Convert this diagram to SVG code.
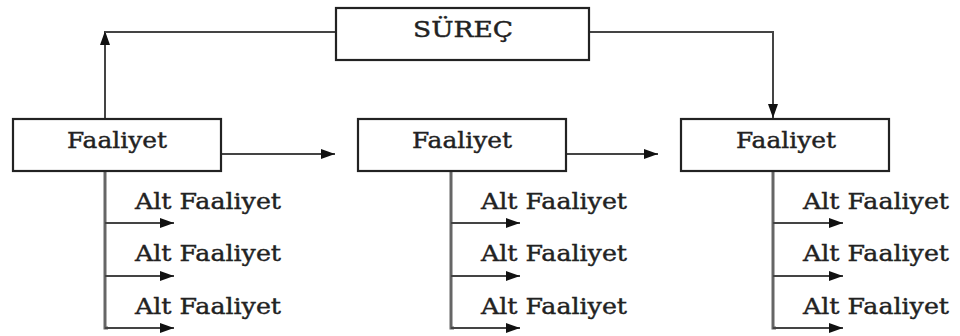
<svg xmlns="http://www.w3.org/2000/svg" width="960" height="336" viewBox="0 0 960 336">
<style>
.box{fill:#fff;stroke:#222;stroke-width:2.2}
.t{font-family:"DejaVu Serif","Liberation Serif",serif;fill:#222;stroke:#222;stroke-width:0.4}
.bt{font-size:22px}
.st{font-size:22px}
.ln{fill:none;stroke:#444;stroke-width:2}
.br{fill:none;stroke:#666;stroke-width:3}
</style>
<defs>
<marker id="ah" viewBox="0 0 14 10" refX="14" refY="5" markerWidth="14" markerHeight="10" markerUnits="userSpaceOnUse" orient="auto">
<path d="M0,0 L14,5 L0,10 Z" fill="#111"/>
</marker>
</defs>
<g id="connectors">
<path class="ln" d="M105,119 V31" marker-end="url(#ah)"/>
<path class="ln" d="M105,32 H336"/>
<path class="ln" d="M589,32 H773 V118" marker-end="url(#ah)"/>
<path class="ln" d="M221,154 H335" marker-end="url(#ah)"/>
<path class="ln" d="M566,154 H658" marker-end="url(#ah)"/>
<path class="br" d="M105,171 V328 H108"/>
<path class="ln" d="M105,223 H174" marker-end="url(#ah)"/>
<path class="ln" d="M105,276 H174" marker-end="url(#ah)"/>
<path class="ln" d="M105,328 H174" marker-end="url(#ah)"/>
<path class="br" d="M451,171 V328 H454"/>
<path class="ln" d="M451,223 H520" marker-end="url(#ah)"/>
<path class="ln" d="M451,276 H520" marker-end="url(#ah)"/>
<path class="ln" d="M451,328 H520" marker-end="url(#ah)"/>
<path class="br" d="M773,171 V328 H776"/>
<path class="ln" d="M773,223 H843" marker-end="url(#ah)"/>
<path class="ln" d="M773,276 H843" marker-end="url(#ah)"/>
<path class="ln" d="M773,328 H843" marker-end="url(#ah)"/>
</g>
<g id="surec">
<rect class="box" x="336" y="8" width="253" height="52"/>
<text class="t bt" x="413" y="37" textLength="100" lengthAdjust="spacingAndGlyphs">SÜREÇ</text>
</g>
<g id="faaliyet1">
<rect class="box" x="13" y="119" width="208" height="52"/>
<text class="t bt" x="67" y="148" textLength="100" lengthAdjust="spacingAndGlyphs">Faaliyet</text>
</g>
<g id="faaliyet2">
<rect class="box" x="358" y="119" width="208" height="52"/>
<text class="t bt" x="412" y="148" textLength="100" lengthAdjust="spacingAndGlyphs">Faaliyet</text>
</g>
<g id="faaliyet3">
<rect class="box" x="681" y="119" width="208" height="52"/>
<text class="t bt" x="736" y="148" textLength="100" lengthAdjust="spacingAndGlyphs">Faaliyet</text>
</g>
<g id="alt1">
<text class="t st" x="135" y="209" textLength="146" lengthAdjust="spacingAndGlyphs">Alt Faaliyet</text>
<text class="t st" x="135" y="261" textLength="146" lengthAdjust="spacingAndGlyphs">Alt Faaliyet</text>
<text class="t st" x="135" y="314" textLength="146" lengthAdjust="spacingAndGlyphs">Alt Faaliyet</text>
</g>
<g id="alt2">
<text class="t st" x="481" y="209" textLength="146" lengthAdjust="spacingAndGlyphs">Alt Faaliyet</text>
<text class="t st" x="481" y="261" textLength="146" lengthAdjust="spacingAndGlyphs">Alt Faaliyet</text>
<text class="t st" x="481" y="314" textLength="146" lengthAdjust="spacingAndGlyphs">Alt Faaliyet</text>
</g>
<g id="alt3">
<text class="t st" x="803" y="209" textLength="146" lengthAdjust="spacingAndGlyphs">Alt Faaliyet</text>
<text class="t st" x="803" y="261" textLength="146" lengthAdjust="spacingAndGlyphs">Alt Faaliyet</text>
<text class="t st" x="803" y="314" textLength="146" lengthAdjust="spacingAndGlyphs">Alt Faaliyet</text>
</g>
</svg>
